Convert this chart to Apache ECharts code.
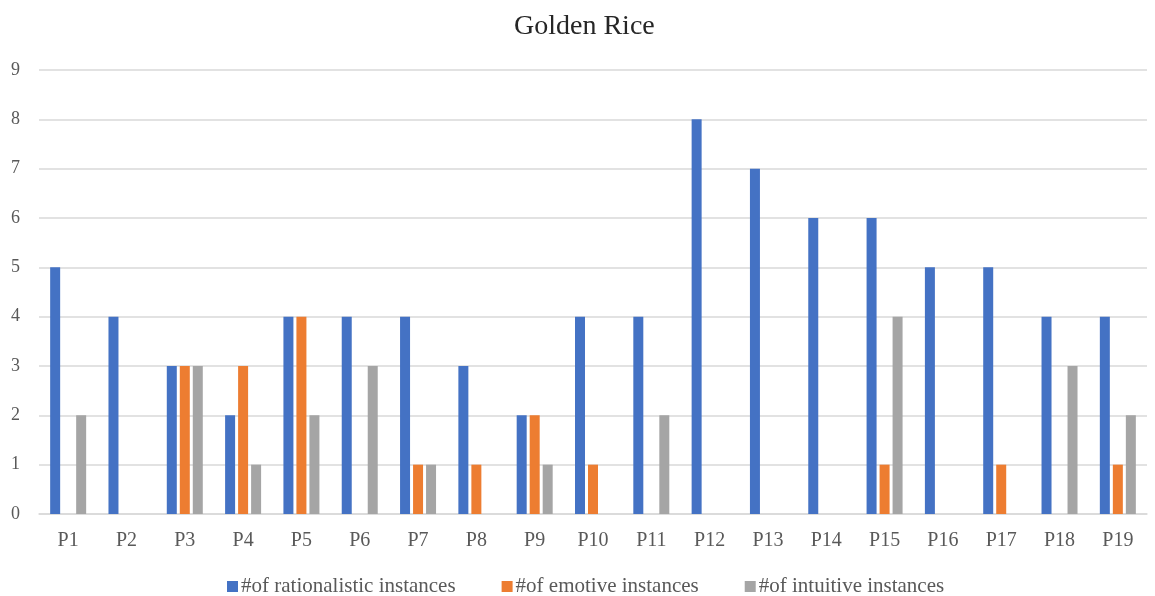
<!DOCTYPE html>
<html>
<head>
<meta charset="utf-8">
<script src="https://cdn.jsdelivr.net/npm/echarts@6/dist/echarts.min.js"></script>
<style>
  html, body { margin: 0; padding: 0; background: #fff; }
  #chart { width: 1155px; height: 596px; }
</style>
</head>
<body>
<div id="chart"></div>
<script>
// Participants and instance counts for the Golden Rice discussion
const categories = ['P1','P2','P3','P4','P5','P6','P7','P8','P9','P10','P11','P12','P13','P14','P15','P16','P17','P18','P19'];
const rationalistic = [5,4,3,2,4,4,4,3,2,4,4,8,7,6,6,5,5,4,4];
const emotive       = [0,0,3,3,4,0,1,1,2,1,0,0,0,0,1,0,1,0,1];
const intuitive     = [2,0,3,1,2,3,1,0,1,0,2,0,0,0,4,0,0,3,2];
const seriesNames = ['#of rationalistic instances', '#of emotive instances', '#of intuitive instances'];
const colors = ['#4472C4', '#ED7D31', '#A5A5A5'];

const font = '"Liberation Serif", "DejaVu Serif", serif';
const chart = echarts.init(document.getElementById('chart'));

const makeSeries = (name, data) => ({
  name: name,
  type: 'bar',
  data: data,
  barWidth: 10,
  barGap: '30%',
  barCategoryGap: '40%'
});

chart.setOption({
  animation: false,
  color: colors,
  title: {
    text: 'Golden Rice',
    left: 509,
    top: 8,
    textStyle: { fontFamily: font, fontSize: 28, fontWeight: 'normal', color: '#262626' }
  },
  legend: {
    top: 571,
    left: 222,
    itemGap: 46,
    itemWidth: 11,
    itemHeight: 11,
    icon: 'rect',
    textStyle: { fontFamily: font, fontSize: 21, color: '#595959', padding: [0, 0, 0, -2] },
    data: seriesNames
  },
  grid: { left: 39, right: 8, top: 70, bottom: 82 },
  xAxis: {
    type: 'category',
    data: categories,
    axisLine: { lineStyle: { color: '#d9d9d9', width: 1.5 } },
    axisTick: { show: false },
    axisLabel: { fontFamily: font, fontSize: 20, color: '#595959', margin: 17 }
  },
  yAxis: {
    type: 'value',
    min: 0,
    max: 9,
    interval: 1,
    axisLine: { show: false },
    axisTick: { show: false },
    splitLine: { lineStyle: { color: '#d9d9d9', width: 1.5 } },
    axisLabel: { fontFamily: font, fontSize: 18, color: '#595959', margin: 19 }
  },
  series: [
    makeSeries(seriesNames[0], rationalistic),
    makeSeries(seriesNames[1], emotive),
    makeSeries(seriesNames[2], intuitive)
  ]
});
</script>
</body>
</html>
